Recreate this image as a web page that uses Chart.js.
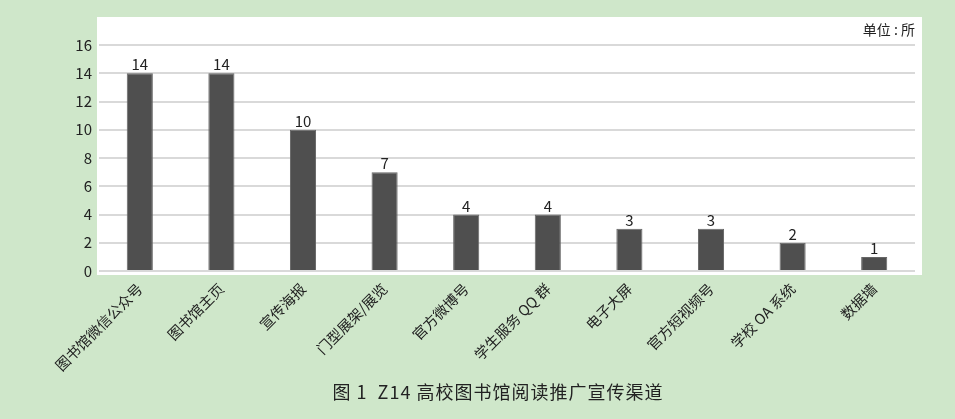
<!DOCTYPE html>
<html>
<head>
<meta charset="utf-8">
<script src="https://cdn.jsdelivr.net/npm/chart.js@4/dist/chart.umd.min.js"></script>
<style>
  html, body { margin: 0; padding: 0; background: #cfe7ca; }
  #wrap { position: relative; width: 955px; height: 419px; }
  #unit { position: absolute; right: 40px; top: 19px; font: 14px "Noto Sans CJK SC", sans-serif; color: #222; }
  #caption { position: absolute; left: 0; width: 996px; top: 378px; text-align: center; font: 18px "Noto Sans CJK SC", sans-serif; letter-spacing: 1px; color: #222; }
</style>
</head>
<body>
<div id="wrap">
  <canvas id="chart" width="955" height="419"></canvas>
  <div id="unit">单位 : 所</div>
  <div id="caption">图 1&nbsp;&nbsp;Z14 高校图书馆阅读推广宣传渠道</div>
</div>
<script>
const categories = ['图书馆微信公众号', '图书馆主页', '宣传海报', '门型展架/展览', '官方微博号',
                    '学生服务 QQ 群', '电子大屏', '官方短视频号', '学校 OA 系统', '数据墙'];
const counts = [14, 14, 10, 7, 4, 4, 3, 3, 2, 1];
const yTicks = [0, 2, 4, 6, 8, 10, 12, 14, 16];

const plotBackground = {
    id: 'plotBackground',
    beforeDraw(chart) {
        const { ctx, chartArea } = chart;
        ctx.save();
        ctx.fillStyle = '#ffffff';
        ctx.fillRect(chartArea.left - 2, chartArea.top - 28,
                     chartArea.right - chartArea.left + 9, chartArea.bottom - chartArea.top + 32);
        ctx.restore();
    }
};

const valueLabels = {
    id: 'valueLabels',
    afterDatasetsDraw(chart) {
        const { ctx } = chart;
        const meta = chart.getDatasetMeta(0);
        ctx.save();
        ctx.font = '15px "Noto Sans CJK SC", sans-serif';
        ctx.fillStyle = '#222';
        ctx.textAlign = 'center';
        ctx.textBaseline = 'bottom';
        meta.data.forEach((bar, i) => {
            ctx.fillText(counts[i], bar.x, bar.y - 1);
        });
        ctx.restore();
    }
};

new Chart(document.getElementById('chart').getContext('2d'), {
    type: 'bar',
    data: {
        labels: categories,
        datasets: [{
            data: counts,
            backgroundColor: '#4f4f4f',
            borderColor: '#666',
            borderWidth: 1,
            categoryPercentage: 1,
            barPercentage: 0.32
        }]
    },
    options: {
        responsive: false,
        animation: false,
        layout: { padding: { top: 45, right: 40, left: 0, bottom: 0 } },
        plugins: {
            legend: { display: false },
            tooltip: { enabled: false }
        },
        scales: {
            x: {
                grid: { display: false },
                border: { display: false },
                ticks: {
                    color: '#222',
                    font: { family: '"Noto Sans CJK SC", sans-serif', size: 14.5 },
                    minRotation: 45,
                    maxRotation: 45,
                    autoSkip: false,
                    padding: 1
                },
                afterFit(scale) { scale.height = 148; }
            },
            y: {
                min: 0,
                max: 16,
                afterBuildTicks(scale) { scale.ticks = yTicks.map(v => ({ value: v })); },
                grid: { color: '#d9d9d9', lineWidth: 2, drawTicks: false },
                border: { display: false },
                ticks: {
                    color: '#222',
                    font: { family: '"Noto Sans CJK SC", sans-serif', size: 15 },
                    padding: 7
                },
                afterFit(scale) { scale.width = 99; }
            }
        }
    },
    plugins: [plotBackground, valueLabels]
});
</script>
</body>
</html>
